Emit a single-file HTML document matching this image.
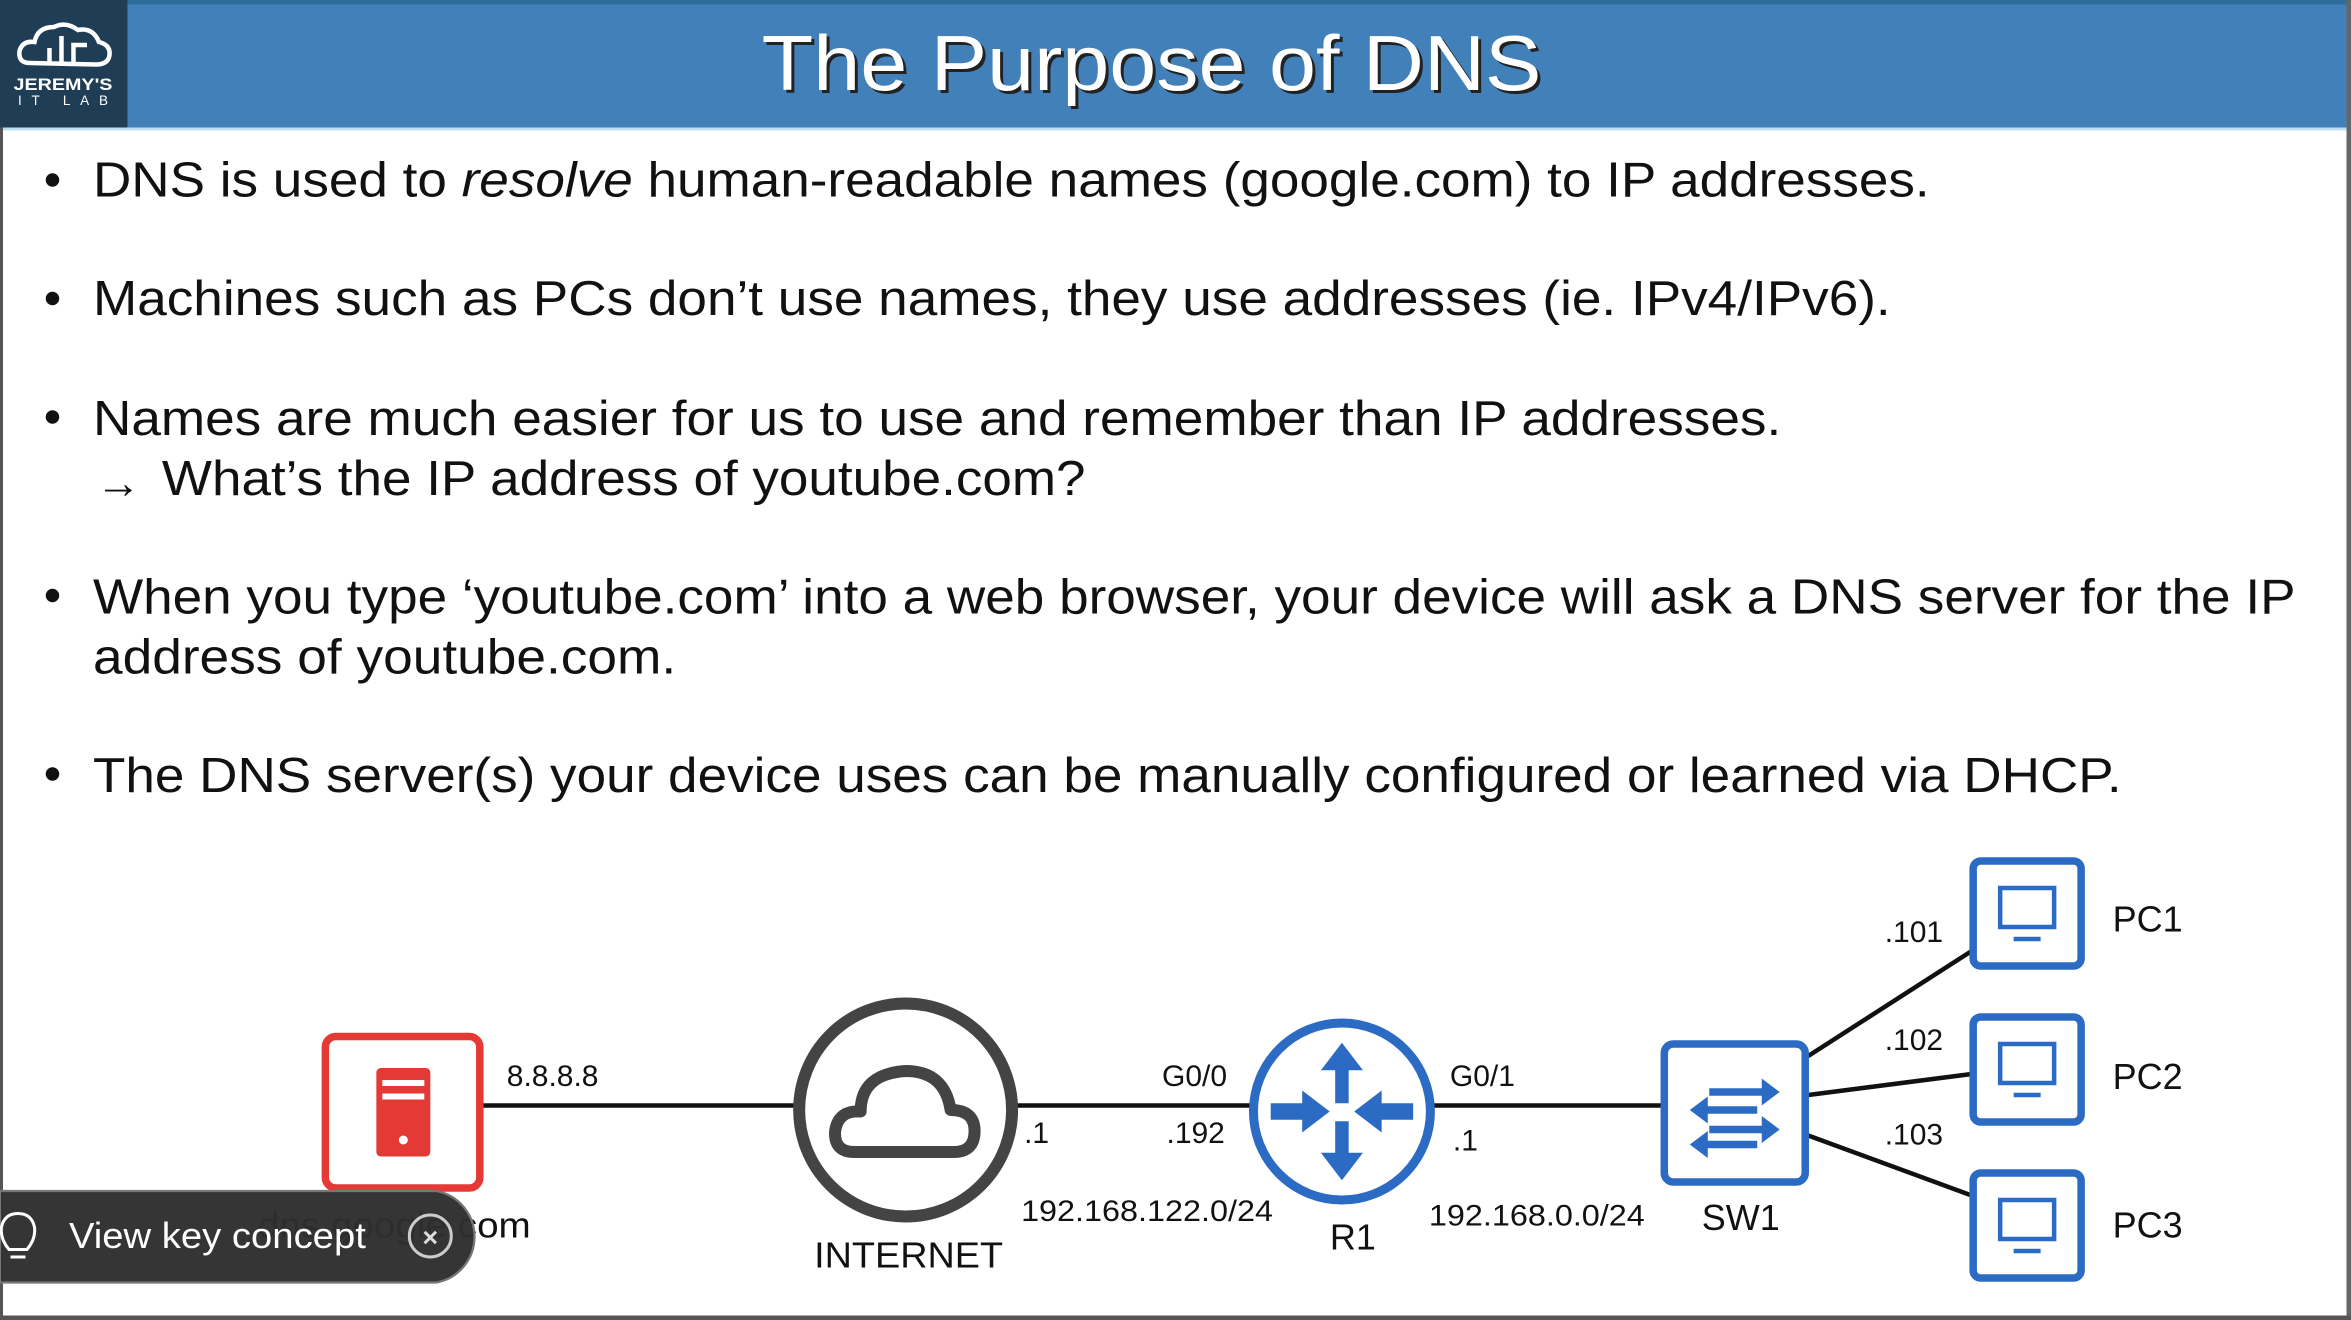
<!DOCTYPE html>
<html><head><meta charset="utf-8"><style>
html,body{margin:0;padding:0;background:#fff;overflow:hidden}
svg{display:block}
text{font-family:"Liberation Sans",sans-serif}
</style></head><body>
<svg width="2351" height="1320" viewBox="0 0 1568 880" preserveAspectRatio="none" xmlns="http://www.w3.org/2000/svg">
<rect x="0" y="0" width="1568" height="880" fill="#fff"/>
<rect x="0" y="0" width="1568" height="85" fill="#4180b9"/>
<rect x="0" y="0" width="1568" height="3" fill="#2f6d9a"/>
<rect x="0" y="85" width="1568" height="2" fill="#bfe0f0"/>
<rect x="0" y="0" width="85" height="85" fill="#1f3d54"/>
<g fill="none" stroke="#fff" stroke-width="3">
<path d="M20 42 Q12 42 13 34 Q15 27 23 28 Q25 18 36 18 Q44 14 52 20 Q62 18 66 28 Q74 30 73 37 Q72 43 64 43 Z"/>
<path d="M33 42 V32 M41 42 V24 M49 42 V30 H58"/>
</g>
<text x="42" y="60" font-size="11" font-weight="bold" fill="#fff" text-anchor="middle" textLength="66" lengthAdjust="spacingAndGlyphs">JEREMY'S</text>
<text x="42" y="70" font-size="9" fill="#fff" text-anchor="middle" textLength="60" lengthAdjust="spacing">IT LAB</text>
<text x="768" y="60" font-size="52" fill="#222" text-anchor="middle" textLength="520" lengthAdjust="spacingAndGlyphs" transform="translate(2,2)">The Purpose of DNS</text>
<text x="768" y="60" font-size="52" fill="#fff" text-anchor="middle" textLength="520" lengthAdjust="spacingAndGlyphs">The Purpose of DNS</text>
<rect x="0" y="85" width="2" height="795" fill="#555"/>
<rect x="1565" y="0" width="3" height="880" fill="#666"/>
<rect x="0" y="877" width="1568" height="3" fill="#555"/>
<g font-size="33" fill="#111">
<circle cx="35" cy="120" r="4.5"/><circle cx="35" cy="199" r="4.5"/><circle cx="35" cy="278" r="4.5"/><circle cx="35" cy="397" r="4.5"/><circle cx="35" cy="516" r="4.5"/>
<text x="62" y="131" textLength="1225" lengthAdjust="spacingAndGlyphs">DNS is used to <tspan font-style="italic">resolve</tspan> human-readable names (google.com) to IP addresses.</text>
<text x="62" y="210" textLength="1199" lengthAdjust="spacingAndGlyphs">Machines such as PCs don’t use names, they use addresses (ie. IPv4/IPv6).</text>
<text x="62" y="290" textLength="1126" lengthAdjust="spacingAndGlyphs">Names are much easier for us to use and remember than IP addresses.</text>
<text x="64" y="332" font-size="30">→</text>
<text x="108" y="330" textLength="616" lengthAdjust="spacingAndGlyphs">What’s the IP address of youtube.com?</text>
<text x="62" y="409" textLength="1469" lengthAdjust="spacingAndGlyphs">When you type ‘youtube.com’ into a web browser, your device will ask a DNS server for the IP</text>
<text x="62" y="449" textLength="389" lengthAdjust="spacingAndGlyphs">address of youtube.com.</text>
<text x="62" y="528" textLength="1353" lengthAdjust="spacingAndGlyphs">The DNS server(s) your device uses can be manually configured or learned via DHCP.</text>
</g>
<g stroke="#111" stroke-width="3">
<line x1="321" y1="737" x2="532" y2="737"/>
<line x1="678" y1="737" x2="836" y2="737"/>
<line x1="955" y1="737" x2="1108" y2="737"/>
<line x1="1206" y1="704" x2="1315" y2="634"/>
<line x1="1206" y1="730" x2="1315" y2="716"/>
<line x1="1206" y1="757" x2="1315" y2="797"/>
</g>
<rect x="217" y="691" width="103" height="101" rx="7" fill="#fff" stroke="#e53935" stroke-width="5"/>
<rect x="251" y="712" width="36" height="59" rx="3" fill="#e53935"/>
<rect x="255" y="720" width="28" height="4" fill="#fff"/><rect x="255" y="729" width="28" height="4" fill="#fff"/>
<circle cx="269" cy="760" r="3" fill="#fff"/>
<circle cx="604" cy="740" r="71" fill="#fff" stroke="#444" stroke-width="8"/>
<path d="M570 768 Q556 768 557 754 Q559 740 574 741 Q574 716 604 714 Q630 714 634 740 Q650 740 650 754 Q650 768 636 768 Z" fill="none" stroke="#444" stroke-width="8" stroke-linejoin="round"/>
<circle cx="895" cy="741" r="59" fill="#fff" stroke="#2b6bc4" stroke-width="6"/>
<g fill="#2b6bc4" stroke="#2b6bc4">
<path d="M895 696 L882 713 L891 713 L891 735 L899 735 L899 713 L908 713 Z"/>
<path d="M895 786 L882 769 L891 769 L891 748 L899 748 L899 769 L908 769 Z"/>
<path d="M886 741 L869 728 L869 736 L848 736 L848 746 L869 746 L869 754 Z"/>
<path d="M904 741 L921 728 L921 736 L942 736 L942 746 L921 746 L921 754 Z"/>
</g>
<rect x="1110" y="696" width="94" height="92" rx="6" fill="#fff" stroke="#2b6bc4" stroke-width="5"/>
<g stroke="#2b6bc4" stroke-width="5" fill="#2b6bc4">
<line x1="1140" y1="728" x2="1178" y2="728"/><line x1="1135" y1="740" x2="1172" y2="740"/>
<line x1="1140" y1="753" x2="1178" y2="753"/><line x1="1135" y1="763" x2="1172" y2="763"/>
</g>
<g fill="#2b6bc4">
<path d="M1187 728 L1175 719 L1175 737 Z"/><path d="M1127 740 L1139 731 L1139 749 Z"/>
<path d="M1187 753 L1175 744 L1175 762 Z"/><path d="M1127 763 L1139 754 L1139 772 Z"/>
</g>
<g fill="#fff" stroke="#2b6bc4" stroke-width="5">
<rect x="1316" y="574" width="72" height="70" rx="5"/>
<rect x="1316" y="678" width="72" height="70" rx="5"/>
<rect x="1316" y="782" width="72" height="70" rx="5"/>
</g>
<g fill="none" stroke="#2b6bc4" stroke-width="3">
<rect x="1334" y="592" width="36" height="26"/><line x1="1343" y1="626" x2="1361" y2="626"/>
<rect x="1334" y="696" width="36" height="26"/><line x1="1343" y1="730" x2="1361" y2="730"/>
<rect x="1334" y="800" width="36" height="26"/><line x1="1343" y1="834" x2="1361" y2="834"/>
</g>
<g font-size="20" fill="#111">
<text x="338" y="724">8.8.8.8</text>
<text x="683" y="762">.1</text>
<text x="775" y="724">G0/0</text>
<text x="778" y="762">.192</text>
<text x="681" y="814" textLength="168" lengthAdjust="spacingAndGlyphs">192.168.122.0/24</text>
<text x="967" y="724">G0/1</text>
<text x="969" y="767">.1</text>
<text x="953" y="817" textLength="144" lengthAdjust="spacingAndGlyphs">192.168.0.0/24</text>
<text x="1257" y="628">.101</text>
<text x="1257" y="700">.102</text>
<text x="1257" y="763">.103</text>
</g>
<g font-size="24" fill="#111">
<text x="543" y="845" textLength="126" lengthAdjust="spacingAndGlyphs">INTERNET</text>
<text x="887" y="833">R1</text>
<text x="1135" y="820">SW1</text>
<text x="1409" y="621">PC1</text>
<text x="1409" y="726">PC2</text>
<text x="1409" y="825">PC3</text>
<text x="172" y="825" textLength="182" lengthAdjust="spacingAndGlyphs">dns.google.com</text>
</g>
<path d="M0 794 H291 A31 31 0 0 1 291 855 H0 Z" fill="#2e2e2e" fill-opacity="0.97" stroke="#777" stroke-width="1.5"/>
<g fill="none" stroke="#fff" stroke-width="2">
<path d="M6 833 Q0 826 1 818 Q3 809 12 809 Q21 809 23 818 Q24 826 18 833 Z"/>
<line x1="7" y1="838" x2="17" y2="838"/>
</g>
<text x="46" y="832" font-size="24" fill="#fff" textLength="198" lengthAdjust="spacingAndGlyphs">View key concept</text>
<circle cx="287" cy="824" r="14" fill="none" stroke="#ccc" stroke-width="2"/>
<text x="287" y="831" font-size="18" font-weight="bold" fill="#ddd" text-anchor="middle">×</text>
</svg>
</body></html>
